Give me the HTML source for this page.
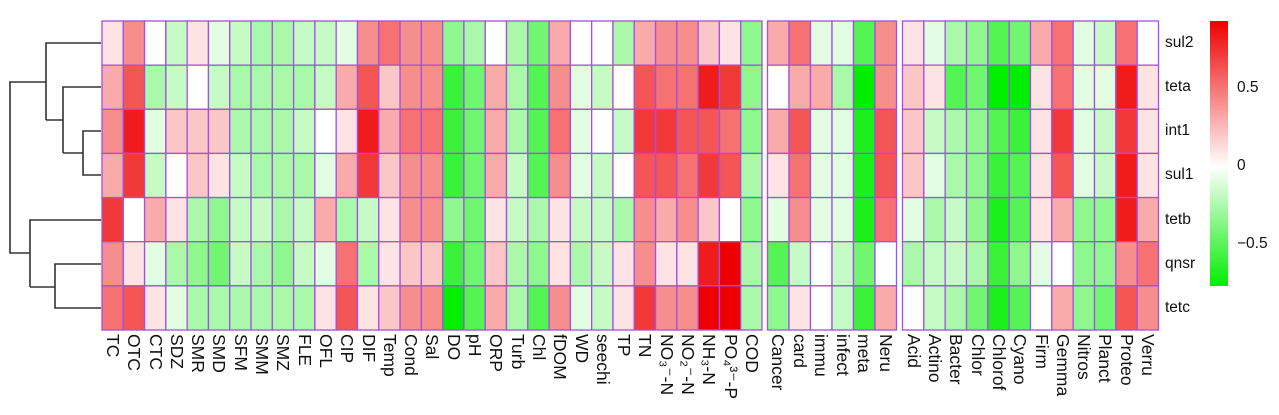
<!DOCTYPE html>
<html><head><meta charset="utf-8"><style>
body{margin:0;background:#fff;width:1279px;height:415px;overflow:hidden;font-family:"Liberation Sans",sans-serif}
svg{position:absolute;left:0;top:0}
.xl{position:absolute;top:334px;writing-mode:vertical-rl;font-size:17.5px;color:#111;line-height:21px;width:21px;white-space:nowrap}
.rl{position:absolute;left:1165px;font-size:15.5px;color:#111}
.cl{position:absolute;left:1237px;font-size:15.5px;color:#111}
</style></head><body>
<svg id="s" width="1279" height="415">
<defs><linearGradient id="g" x1="0" y1="0" x2="0" y2="1">
<stop offset="0" stop-color="#ee0000"/><stop offset="0.55" stop-color="#ffffff"/><stop offset="1" stop-color="#00ee00"/></linearGradient></defs>
<rect x="1210" y="21" width="18" height="265" fill="url(#g)"/>
<g stroke="#333" stroke-width="1.6" fill="none">
<path d="M101 43H46V120M101 87H63V153M101 131H83V175H101M83 153H63M63 120H46M46 82H10V253H30M101 220H30V287M101 264H55V308H101M55 287H30"/>
</g>
</svg>
<div class="rl" style="top:34px">sul2</div>
<div class="rl" style="top:78px">teta</div>
<div class="rl" style="top:122px">int1</div>
<div class="rl" style="top:166px">sul1</div>
<div class="rl" style="top:211px">tetb</div>
<div class="rl" style="top:255px">qnsr</div>
<div class="rl" style="top:299px">tetc</div>
<div class="cl" style="top:79px">0.5</div>
<div class="cl" style="top:157px">0</div>
<div class="cl" style="top:235px">−0.5</div>
<div id="labs">
<div class="xl" style="left:102px">TC</div><div class="xl" style="left:123px">OTC</div><div class="xl" style="left:145px">CTC</div><div class="xl" style="left:166px">SDZ</div><div class="xl" style="left:187px">SMR</div><div class="xl" style="left:208px">SMD</div><div class="xl" style="left:230px">SFM</div><div class="xl" style="left:251px">SMM</div><div class="xl" style="left:272px">SMZ</div><div class="xl" style="left:294px">FLE</div><div class="xl" style="left:315px">OFL</div><div class="xl" style="left:336px">CIP</div><div class="xl" style="left:358px">DIF</div><div class="xl" style="left:379px">Temp</div><div class="xl" style="left:400px">Cond</div><div class="xl" style="left:421px">Sal</div><div class="xl" style="left:443px">DO</div><div class="xl" style="left:464px">pH</div><div class="xl" style="left:485px">ORP</div><div class="xl" style="left:507px">Turb</div><div class="xl" style="left:528px">Chl</div><div class="xl" style="left:549px">fDOM</div><div class="xl" style="left:571px">WD</div><div class="xl" style="left:592px">seechi</div><div class="xl" style="left:613px">TP</div><div class="xl" style="left:634px">TN</div><div class="xl" style="left:656px">NO₃⁻-N</div><div class="xl" style="left:677px">NO₂⁻-N</div><div class="xl" style="left:698px">NH₃-N</div><div class="xl" style="left:720px">PO₄³⁻-P</div><div class="xl" style="left:741px">COD</div>
<div class="xl" style="left:767px">Cancer</div><div class="xl" style="left:789px">card</div><div class="xl" style="left:810px">immu</div><div class="xl" style="left:832px">infect</div><div class="xl" style="left:853px">meta</div><div class="xl" style="left:875px">Neru</div>
<div class="xl" style="left:903px">Acid</div><div class="xl" style="left:924px">Actino</div><div class="xl" style="left:945px">Bacter</div><div class="xl" style="left:967px">Chlor</div><div class="xl" style="left:988px">Chlorof</div><div class="xl" style="left:1009px">Cyano</div><div class="xl" style="left:1031px">Firm</div><div class="xl" style="left:1052px">Gemma</div><div class="xl" style="left:1073px">Nitros</div><div class="xl" style="left:1094px">Planct</div><div class="xl" style="left:1116px">Proteo</div><div class="xl" style="left:1137px">Verru</div>
</div>
<script>
var b1=[
[1,4,0,-2,1,-1,-2,-3,-3,-2,-2,-1,4,5,4,4,-4,-3,0,-3,-5,3,0,0,-3,3,4,4,2,1,-4],
[3,6,-3,-2,0,-2,-3,-3,-3,-3,-2,3,6,2,4,4,-7,-5,3,-3,-6,4,-1,-2,0,6,5,5,8,7,-4],
[4,8,-1,2,2,2,-3,-3,-3,-2,0,1,8,3,5,5,-7,-5,3,-3,-6,5,-1,0,-2,7,7,6,6,5,-4],
[3,7,-2,0,2,1,-2,-3,-3,-3,-1,3,7,2,4,4,-7,-5,3,-2,-6,4,-1,-2,0,6,6,5,7,6,-3],
[7,0,3,1,-3,-4,-2,-2,-3,-2,3,-3,-2,1,4,4,-4,-5,1,-2,-3,1,-2,-2,-3,4,3,4,2,0,-4],
[4,1,-1,-3,-4,-5,-2,-3,-4,-2,-1,5,-3,1,2,2,-7,-5,2,-3,-4,1,-3,-2,1,4,1,1,8,9,-3],
[5,6,1,-1,-3,-3,-3,-3,-3,-3,1,6,1,2,4,4,-9,-6,3,-3,-6,4,-1,-2,1,7,4,4,9,9,-3]];
var b2=[[3,5,-1,-1,-6,4],[0,3,3,-3,-9,4],[3,6,-1,-1,-8,6],[1,5,-1,-1,-8,6],[-1,4,-1,-1,-8,5],[-6,-2,0,-2,-5,0],[-4,1,0,-2,-7,3]];
var b3=[[1,-1,-3,-4,-6,-5,3,5,-1,-2,5,0],[2,1,-6,-5,-9,-9,1,5,-1,-1,8,1],[2,-2,-3,-4,-6,-7,1,7,-1,-2,7,1],[2,-1,-3,-4,-7,-6,1,6,-1,-2,8,1],[-1,-3,-2,-4,-8,-6,1,3,-4,-4,8,3],[-3,-2,-2,-3,-7,-4,-1,0,-4,-4,4,5],[0,-2,-3,-5,-8,-6,0,3,-4,-5,6,4]];
function col(n){var t=Math.abs(n)/9;var a=Math.round(255*(1-t)),h=Math.round(255-17*t);
return n>=0?'rgb('+h+','+a+','+a+')':'rgb('+a+','+h+','+a+')';}
var s=document.getElementById('s'),out='';
function blk(d,x0,x1){var n=d[0].length,w=(x1-x0)/n,y0=21,hh=(330-21)/7;
for(var r=0;r<7;r++)for(var c=0;c<n;c++){out+='<rect x="'+(x0+c*w).toFixed(2)+'" y="'+(y0+r*hh).toFixed(2)+'" width="'+w.toFixed(2)+'" height="'+hh.toFixed(2)+'" fill="'+col(d[r][c])+'" stroke="#a64ee6" stroke-width="1.3"/>';}}
blk(b1,102,762);blk(b2,767.5,896.5);blk(b3,902.5,1158.5);
s.insertAdjacentHTML('beforeend',out);
</script>
</body></html>
